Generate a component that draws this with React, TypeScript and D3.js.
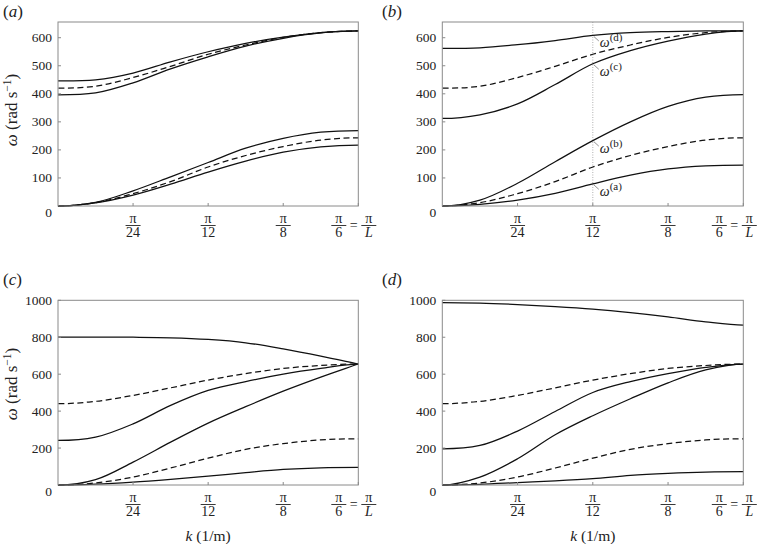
import React from "react";
import * as d3 from "d3";

const W = 761;
const H = 544;
const FONT = "Liberation Serif, Times New Roman, Times, DejaVu Serif, serif";

// k grid: 0 .. pi/6 in steps of pi/48
const kGrid = [0, Math.PI / 48, Math.PI / 24, Math.PI / 16, Math.PI / 12, (5 * Math.PI) / 48, Math.PI / 8, (7 * Math.PI) / 48, Math.PI / 6];
const xTickValues = [Math.PI / 24, Math.PI / 12, Math.PI / 8, Math.PI / 6];
const xTickDenoms = ["24", "12", "8", "6"];

// panel (a)
const aUpperHigh = [446, 450, 474, 514, 550, 580, 602, 618, 624];
const aUpperLow = [396, 403, 439, 489, 532, 570, 598, 617, 624];
const aLowerHigh = [0, 13, 54, 104, 155, 206, 241, 263, 269];
const aLowerLow = [0, 11, 39, 78, 121, 160, 192, 211, 217];
const abUpperDashed = [420, 427, 458, 498, 541, 574, 601, 618, 624];
const abLowerDashed = [0, 12, 44, 87, 139, 180, 212, 235, 243];

// panel (b)
const omegaD = [562, 564, 575, 590, 608, 618, 622, 624, 624];
const omegaC = [312, 325, 364, 433, 507, 554, 588, 613, 624];
const omegaB = [0, 21, 81, 158, 233, 300, 355, 388, 397];
const omegaA = [0, 6, 21, 45, 79, 110, 132, 143, 146];
const omegaLabels = ["d", "c", "b", "a"];

// panel (c)
const cTop = [801, 801, 800, 797, 788, 770, 737, 698, 655];
const cMid = [241, 259, 331, 431, 512, 560, 600, 631, 655];
const cSteep = [0, 29, 124, 232, 335, 424, 508, 584, 655];
const cBottom = [0, 5, 16, 31, 48, 67, 84, 93, 95];
const cdUpperDashed = [440, 453, 485, 526, 568, 603, 631, 647, 655];
const cdLowerDashed = [0, 11, 43, 92, 145, 193, 224, 244, 250];

// panel (d)
const dTop = [988, 985, 977, 966, 952, 933, 910, 883, 866];
const dMid = [196, 214, 292, 398, 501, 560, 603, 637, 655];
const dSteep = [0, 43, 142, 272, 375, 467, 553, 623, 655];
const dBottom = [0, 4, 13, 22, 34, 52, 63, 70, 72];

const ticksAB = [100, 200, 300, 400, 500, 600];
const ticksCD = [200, 400, 600, 800, 1000];

type Curve = { values: number[]; dashed?: boolean; crossing?: boolean };

type PanelProps = {
  id: string;
  left: number;
  right: number;
  top: number;
  bottom: number;
  yMax: number;
  yTicks: number[];
  curves: Curve[];
  letter: string;
  letterX: number;
  letterY: number;
  yLabelY?: number;
  xLabel?: boolean;
  eqShift: number;
  annotate?: boolean;
};

function Panel(p: PanelProps) {
  const x = d3.scaleLinear().domain([0, Math.PI / 6]).range([p.left, p.right]);
  const y = d3.scaleLinear().domain([0, p.yMax]).range([p.bottom, p.top]);
  const n = kGrid.length;
  const kEnd = kGrid[n - 1];
  // dispersion curves are symmetric about k = 0 and k = pi/L: mirror one neighbour at each end
  const kExt = [-kGrid[1], ...kGrid, 2 * kEnd - kGrid[n - 2]];
  const line = d3
    .line<number>()
    .x((_, i) => x(kExt[i]))
    .y((d) => y(d))
    .curve(d3.curveCatmullRom.alpha(0.5));
  const ext = (c: Curve) => {
    const v = c.values;
    const endPt = c.crossing ? 2 * v[n - 1] - v[n - 2] : v[n - 2];
    return [v[1], ...v, endPt];
  };
  const frameColor = "#8a8a8a";
  const textColor = "#222";

  const frac = (cx: number, den: string, italic = false, key?: string) => (
    <g key={key}>
      <text x={cx} y={p.bottom + 16.5} textAnchor="middle" fontSize={14} fill={textColor}>π</text>
      <line x1={cx - 7.5} x2={cx + 7.5} y1={p.bottom + 19.5} y2={p.bottom + 19.5} stroke={textColor} strokeWidth={0.9} />
      <text x={cx} y={p.bottom + 31} textAnchor="middle" fontSize={14} fill={textColor} fontStyle={italic ? "italic" : "normal"}>{den}</text>
    </g>
  );

  const xi = x(Math.PI / 12);
  const clipId = "clip-" + p.id;

  return (
    <g style={{ fontFamily: FONT }}>
      <defs>
        <clipPath id={clipId}>
          <rect x={p.left} y={p.top - 2} width={p.right - p.left} height={p.bottom - p.top + 3} />
        </clipPath>
      </defs>
      <text x={p.letterX} y={p.letterY} fontSize={17} fill={textColor}>
        (<tspan fontStyle="italic">{p.letter}</tspan>)
      </text>
      {p.annotate && (
        <line x1={xi} x2={xi} y1={p.top} y2={p.bottom} stroke="#b0b0b0" strokeWidth={1} strokeDasharray="1,1.5" />
      )}
      <g clipPath={`url(#${clipId})`}>
        {p.curves.map((c, i) => (
          <path
            key={i}
            d={line(ext(c)) || ""}
            fill="none"
            stroke="#111"
            strokeWidth={1.25}
            strokeDasharray={c.dashed ? "6,3.5" : undefined}
          />
        ))}
      </g>
      <rect x={p.left} y={p.top} width={p.right - p.left} height={p.bottom - p.top} fill="none" stroke={frameColor} strokeWidth={1} />
      {p.yTicks.map((t) => (
        <g key={t}>
          <line x1={p.left} x2={p.left + 3} y1={y(t)} y2={y(t)} stroke={frameColor} />
          <text x={p.left - 6} y={y(t) + 4.5} textAnchor="end" fontSize={13.5} fill={textColor}>{t}</text>
        </g>
      ))}
      <text x={p.left - 6} y={p.bottom + 11} textAnchor="end" fontSize={13.5} fill={textColor}>0</text>
      {xTickValues.map((v) => (
        <line key={v} x1={x(v)} x2={x(v)} y1={p.bottom} y2={p.bottom - 3} stroke={frameColor} />
      ))}
      {xTickValues.slice(0, 3).map((v, i) => frac(x(v), xTickDenoms[i], false, "f" + i))}
      {frac(x(Math.PI / 6) + p.eqShift - 15, xTickDenoms[3], false, "last")}
      <text x={x(Math.PI / 6) + p.eqShift} y={p.bottom + 24} textAnchor="middle" fontSize={14} fill={textColor}>=</text>
      {frac(x(Math.PI / 6) + p.eqShift + 15, "L", true, "L")}
      {p.yLabelY !== undefined && (
        <text transform={`translate(17,${p.yLabelY}) rotate(-90)`} textAnchor="middle" fontSize={17} fill={textColor}>
          <tspan fontStyle="italic">ω</tspan> (rad s<tspan fontSize={11.5} dy={-6}>−1</tspan><tspan dy={6}>)</tspan>
        </text>
      )}
      {p.xLabel && (
        <text x={(p.left + p.right) / 2} y={p.bottom + 56} textAnchor="middle" fontSize={15.5} fill={textColor}>
          <tspan fontStyle="italic">k</tspan> (1/m)
        </text>
      )}
      {p.annotate &&
        [omegaD, omegaC, omegaB, omegaA].map((vals, i) => {
          const cy = y(vals[4]);
          return (
            <g key={"lab" + i}>
              <line x1={xi + 1} y1={cy + 1} x2={xi + 6} y2={cy + 5.5} stroke="#777" strokeWidth={0.8} />
              <text x={xi + 7} y={cy + 12} fontSize={14} fill={textColor}>
                <tspan fontStyle="italic">ω</tspan>
                <tspan fontSize={11} dy={-6}>({omegaLabels[i]})</tspan>
              </text>
            </g>
          );
        })}
    </g>
  );
}

export default function App() {
  return (
    <svg width={W} height={H} style={{ position: "absolute", left: 0, top: 0, background: "#fff" }}>
      <rect width={W} height={H} fill="#fff" />
      <Panel
        id="a"
        left={58}
        right={358.3}
        top={22}
        bottom={206}
        yMax={656}
        yTicks={ticksAB}
        curves={[
          { values: aUpperHigh },
          { values: abUpperDashed, dashed: true },
          { values: aUpperLow },
          { values: aLowerHigh },
          { values: abLowerDashed, dashed: true },
          { values: aLowerLow },
        ]}
        letter="a"
        letterX={3}
        letterY={17}
        yLabelY={110}
        eqShift={-4.5}
      />
      <Panel
        id="b"
        left={442.3}
        right={743.3}
        top={22}
        bottom={206}
        yMax={656}
        yTicks={ticksAB}
        curves={[
          { values: omegaD },
          { values: abUpperDashed, dashed: true },
          { values: omegaC },
          { values: omegaB },
          { values: abLowerDashed, dashed: true },
          { values: omegaA },
        ]}
        letter="b"
        letterX={382}
        letterY={17}
        eqShift={-9}
        annotate
      />
      <Panel
        id="c"
        left={58}
        right={358.3}
        top={300.3}
        bottom={485}
        yMax={1000}
        yTicks={ticksCD}
        curves={[
          { values: cTop, crossing: true },
          { values: cdUpperDashed, dashed: true },
          { values: cMid },
          { values: cSteep, crossing: true },
          { values: cdLowerDashed, dashed: true },
          { values: cBottom },
        ]}
        letter="c"
        letterX={3}
        letterY={285}
        yLabelY={384}
        xLabel
        eqShift={-4.5}
      />
      <Panel
        id="d"
        left={442.3}
        right={743.3}
        top={300.3}
        bottom={485}
        yMax={1000}
        yTicks={ticksCD}
        curves={[
          { values: dTop },
          { values: cdUpperDashed, dashed: true },
          { values: dMid },
          { values: dSteep },
          { values: cdLowerDashed, dashed: true },
          { values: dBottom },
        ]}
        letter="d"
        letterX={382}
        letterY={285}
        xLabel
        eqShift={-9}
      />
    </svg>
  );
}
